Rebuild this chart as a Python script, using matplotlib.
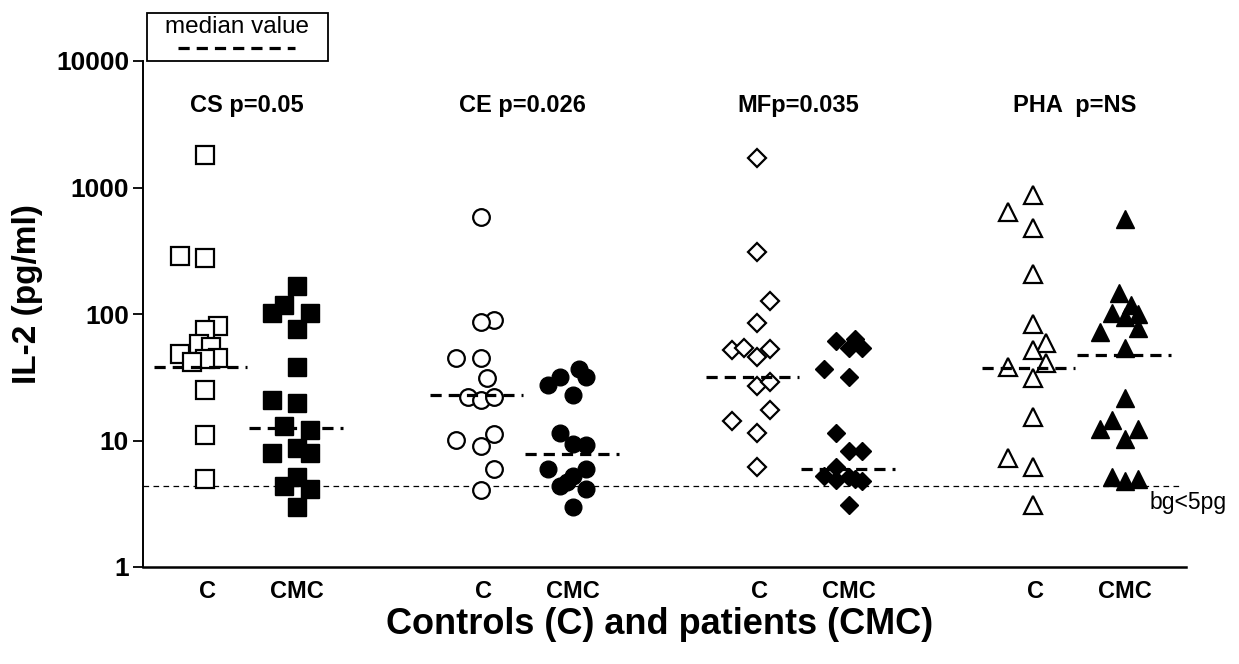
import matplotlib
matplotlib.use('Agg')
import matplotlib.pyplot as plt
import matplotlib.transforms as mtransforms
from matplotlib.patches import Rectangle
from matplotlib.lines import Line2D
import numpy as np

plt.rcParams['font.family'] = ['Liberation Sans', 'DejaVu Sans']

# stimuli and p values
groups = ['CS', 'CE', 'MF', 'PHA']
titles = ['CS p=0.05', 'CE p=0.026', 'MFp=0.035', 'PHA  p=NS']
subgroups = ['C', 'CMC']

# IL-2 values (pg/ml), with horizontal jitter slot of each point
cs_c = [1800, 290, 275, 80, 75, 58, 55, 48, 45, 44, 42, 25, 11, 5]
cs_c_slot = [0, -2, 0, 1, 0, -0.5, 0.5, -2, 1, 0, -1, 0, 0, 0]
cs_cmc = [167, 118, 102, 102, 76, 38, 21, 19.7, 13, 12, 8, 8.7, 8, 5.1, 4.4, 4.1, 3.0]
cs_cmc_slot = [0, -1, -2, 1, 0, 0, -2, 0, -1, 1, -2, 0, 1, 0, -1, 1, 0]

ce_c = [585, 90, 86, 45, 45, 31, 22, 21, 22, 11.2, 10.1, 9.1, 6, 4.06]
ce_c_slot = [0, 1, 0, -2, 0, 0.5, -1, 0, 1, 1, -2, 0, 1, 0]
ce_cmc = [27.5, 32, 36.7, 32, 23, 11.5, 9.4, 9.2, 6, 6, 5.2, 4.7, 4.4, 4.1, 3.0]
ce_cmc_slot = [-2, -1, 0.5, 1, 0, -1, 0, 1, -2, 1, 0, -0.5, -1, 1, 0]

mf_c = [1710, 309, 127, 85, 52, 54, 53, 46, 27, 29, 17.4, 14.3, 11.5, 6.2]
mf_c_slot = [0, 0, 1, 0, -2, -1, 1, 0, 0, 1, 1, -2, 0, 0]
mf_cmc = [61, 63, 54, 54, 37, 32, 11.5, 8.3, 8.3, 6.2, 5.2, 4.9, 5.1, 5.0, 4.8, 3.1]
mf_cmc_slot = [-1, 0.5, 0, 1, -2, 0, -1, 0, 1, -1, -2, -1, 0, 0.5, 1, 0]

pha_c = [874, 640, 478, 207, 83, 59, 52, 41, 38, 31, 15.3, 7.3, 6.2, 3.1]
pha_c_slot = [0, -2, 0, 0, 0, 1, 0, 1, -2, 0, 0, -2, 0, 0]
pha_cmc = [564, 147, 118, 102, 95, 100, 77, 72, 54, 21.7, 14.5, 12.3, 12.3, 10.3, 5.1, 4.8, 5.0]
pha_cmc_slot = [0, -0.5, 0.5, -1, 0, 1, 1, -2, 0, 0, -1, -2, 1, 0, -1, 0, 1]

medians_c = [38, 23, 32, 37.5]
medians_cmc = [12.5, 7.8, 6.0, 47]
background = 4.37

data_c = [cs_c, ce_c, mf_c, pha_c]
slot_c = [cs_c_slot, ce_c_slot, mf_c_slot, pha_c_slot]
data_cmc = [cs_cmc, ce_cmc, mf_cmc, pha_cmc]
slot_cmc = [cs_cmc_slot, ce_cmc_slot, mf_cmc_slot, pha_cmc_slot]

markers = ['s', 'o', 'D', '^']
msizes = [12.5, 12, 9.2, 13.5]
slot_w = 0.136

fig = plt.figure(figsize=(12.39, 6.64), dpi=100)
ax = fig.add_axes([143/1239, 1-567/664, (1186-143)/1239, (567-61)/664])

med_style = dict(color='black', lw=2.3, dashes=(3.5, 2.2))

for i, g in enumerate(groups):
    xc = 3*i
    xm = 3*i + 1
    ax.plot(xc + slot_w*np.array(slot_c[i]), data_c[i], linestyle='none',
            marker=markers[i], ms=msizes[i], mfc='white', mec='black', mew=1.6, zorder=3)
    ax.plot(xm + slot_w*np.array(slot_cmc[i]), data_cmc[i], linestyle='none',
            marker=markers[i], ms=msizes[i], mfc='black', mec='black', mew=1.0, zorder=3)
    ax.plot([xc - 0.55, xc + 0.46], [medians_c[i]]*2, zorder=4, **med_style)
    ax.plot([xm - 0.52, xm + 0.5], [medians_cmc[i]]*2, zorder=4, **med_style)

ax.axhline(background, xmin=0, xmax=0.994, color='black', lw=0.9,
           linestyle=(0, (4.5, 3.5)), zorder=1)

ax.set_yscale('log')
ax.set_ylim(1, 10000)
ax.set_xlim(-0.674, 10.663)
ax.set_yticks([1, 10, 100, 1000, 10000])
ax.set_yticklabels(['1', '10', '100', '1000', '10000'])
ax.yaxis.set_minor_locator(matplotlib.ticker.NullLocator())

xt = []
xl = []
for i in range(4):
    xt += [3*i + 0.03, 3*i + 1]
    xl += subgroups
ax.set_xticks(xt)
ax.set_xticklabels(xl)

ax.spines['top'].set_visible(False)
ax.spines['right'].set_visible(False)
ax.spines['left'].set_linewidth(1.4)
ax.spines['bottom'].set_linewidth(1.8)
ax.tick_params(axis='y', direction='out', length=7, width=1.3, pad=3,
               labelsize=19)
ax.tick_params(axis='x', length=0, pad=9, labelsize=17)
for lab in ax.get_yticklabels() + ax.get_xticklabels():
    lab.set_fontweight('bold')

trans = mtransforms.blended_transform_factory(ax.transData, ax.transAxes)
for i, t in enumerate(titles):
    ax.text(3*i + 0.45, 0.913, t, transform=trans, ha='center', va='center',
            fontsize=17, fontweight='bold')

bg_trans = mtransforms.offset_copy(ax.transData, fig=fig, y=-5, units='dots')
ax.text(10.27, background, 'bg<5pg', ha='left', va='top', fontsize=16.5,
        transform=bg_trans, clip_on=False)

# legend box
fig.patches.append(Rectangle((147/1239, 1-61/664), (328-147)/1239, 48/664,
                             transform=fig.transFigure, fill=False, lw=1.3,
                             edgecolor='black'))
fig.text(237/1239, 1-27/664, 'median value', ha='center', va='center', fontsize=17.5)
fig.lines.append(Line2D([178/1239, 295/1239], [1-48/664, 1-48/664],
                        transform=fig.transFigure, **med_style))

fig.text(28/1239, 1-294/664, 'IL-2 (pg/ml)', rotation=90, ha='center', va='center',
         fontsize=24, fontweight='bold')
fig.text(660/1239, 1-625/664, 'Controls (C) and patients (CMC)', ha='center',
         va='center', fontsize=26, fontweight='bold')

fig.savefig('out.png', dpi=100)
